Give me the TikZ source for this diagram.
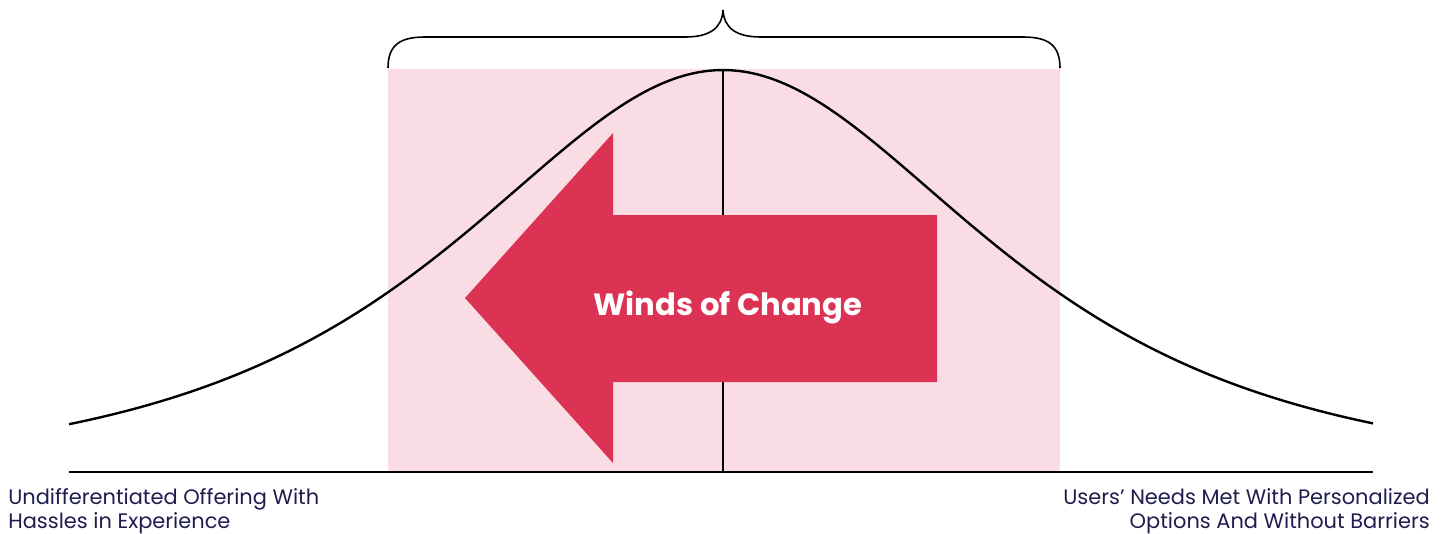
\documentclass[tikz,border=0pt]{standalone}
\usepackage{fontspec}
\setmainfont{Poppins}
\newfontfamily\labelfont{Poppins}
\definecolor{pinkbg}{HTML}{FADDE4}
\definecolor{arrowred}{HTML}{DC3354}
\definecolor{navy}{HTML}{1F1D4F}
\begin{document}
\begin{tikzpicture}[x=0.75pt,y=-0.75pt,
  axisline/.style={line width=2.2pt,black},
  curveline/.style={line width=1.8pt,black},
  bracestyle/.style={line width=1.2pt,black},
  sidelabel/.style={text=navy,font=\labelfont\fontsize{15.7}{18}\selectfont,inner sep=0pt},
  windtext/.style={text=white,font=\bfseries\fontsize{23}{27}\selectfont,inner sep=0pt}]
\useasboundingbox (0,0) rectangle (1450,533);
% pink band
\fill[pinkbg] (388,69) rectangle (1060,472);
% bell curve
\draw[curveline,domain=69:1373,samples=200,smooth]
  plot (\x,{472-804/(exp((\x-723)/232)+exp(-(\x-723)/232))});
% vertical center line
\draw[line width=1.6pt] (723,70) -- (723,472);
% arrow
\fill[arrowred] (465,298) -- (613,133) -- (613,215) -- (937,215) -- (937,382) -- (613,382) -- (613,463) -- cycle;
\node[windtext,anchor=base] (winds) at (728,315) {Winds of Change};
% baseline
\coordinate (axL) at (69,472);
\coordinate (axR) at (1373,472);
\draw[axisline] (axL) -- (axR);
% brace
\draw[bracestyle] (388,68) .. controls (388,45) and (400,37) .. (425,37) -- (685,37)
  .. controls (710,37) and (722,28) .. (723,10)
  .. controls (724,28) and (736,37) .. (761,37) -- (1023,37)
  .. controls (1048,37) and (1060,45) .. (1060,68);
% labels
\node[sidelabel,anchor=north west,align=left] (leftlab) at (8,488) {Undifferentiated Offering With\\Hassles in Experience};
\node[sidelabel,anchor=north east,align=right] (rightlab) at (1430,488) {Users’ Needs Met With Personalized\\Options And Without Barriers};
\end{tikzpicture}
\end{document}
